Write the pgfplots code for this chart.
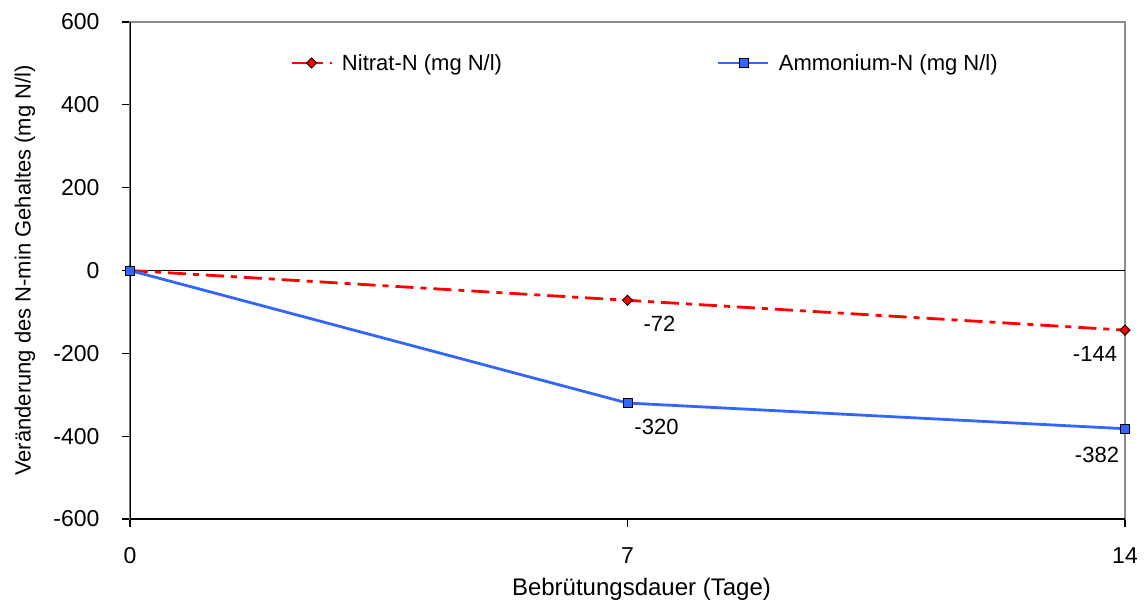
\documentclass[border=0pt]{standalone}
\usepackage{pgfplots}
\usepackage{pgfplotstable}
\pgfplotsset{compat=1.18}
\usepackage{fontspec}
\setmainfont{Liberation Sans}

\definecolor{nred}{RGB}{255,0,0}
\definecolor{ablue}{RGB}{51,102,255}
\definecolor{frame}{RGB}{140,140,140}

% Veraenderung des N-min Gehaltes waehrend der Bebruetung
\pgfplotstableread{
t  nitrat  ammonium
0  0       0
7  -72     -320
14 -144    -382
}\ndata

\pgfplotsset{
  vlabel/.style={draw=none, forget plot, mark=none, nodes near coords, point meta=y,
    nodes near coords style={anchor=center, font=\fontsize{22}{26}\selectfont}},
}

\begin{document}
\begin{tikzpicture}[font=\fontsize{22}{26}\selectfont]
\path[use as bounding box] (-130pt,-81pt) rectangle (1015pt,519pt);
\begin{axis}[
  at={(0,0)}, anchor=south west,
  scale only axis, width=995pt, height=497pt,
  xmin=0, xmax=14, ymin=-600, ymax=600,
  xtick={0,7,14}, ytick={-600,-400,...,600},
  xtick pos=bottom, ytick pos=left,
  tick align=outside, major tick length=8pt,
  tick style={black, line width=1.1pt},
  axis line style={draw=frame, line width=1.4pt},
  /pgf/number format/assume math mode=true,
  tick label style={font=\fontsize{23}{27}\selectfont},
  yticklabel style={xshift=-19pt},
  xticklabel style={yshift=-17pt},
  xlabel={Bebrütungsdauer (Tage)},
  ylabel={Veränderung des N-min Gehaltes (mg N/l)},
  every axis x label/.style={at={(axis description cs:0.514,0)}, anchor=center,
    yshift=-70pt, font=\fontsize{24}{28}\selectfont},
  every axis y label/.style={at={(axis description cs:-0.1055,0.5)}, rotate=90, anchor=center,
    font=\fontsize{22}{26}\selectfont},
  legend columns=2,
  legend cell align=left,
  legend style={draw=none, fill=none, inner sep=0pt,
    at={(rel axis cs:0.1608,0.9175)}, anchor=west,
    font=\fontsize{22}{26}\selectfont,
    /tikz/every odd column/.append style={column sep=7pt},
    /tikz/every even column/.append style={column sep=213pt}},
  legend image code/.code={
    \draw[mark repeat=2, mark phase=2] plot coordinates {(0pt,0pt) (20pt,0pt) (40pt,0pt)};},
]
% Achsen links und unten sowie Nulllinie
\draw[black, line width=1.2pt] (rel axis cs:0,1) -- (rel axis cs:0,0) -- (rel axis cs:1,0);
\draw[black, line width=1.2pt] (axis cs:0,0) -- (axis cs:14,0);

\addplot[nred, line width=2.8pt, dash pattern=on 18pt off 7pt on 6pt off 7pt,
  mark=square*, mark size=3.6pt,
  mark options={solid, rotate=45, fill=nred, draw=black, line width=0.8pt}]
  table[x=t, y=nitrat] {\ndata};
\addlegendentry{Nitrat-N (mg N/l)}

\addplot[ablue, line width=2.8pt,
  mark=square*, mark size=4.5pt,
  mark options={solid, fill=ablue, draw=black, line width=0.8pt},
  legend image code/.code={
    \draw[mark repeat=2, mark phase=2] plot coordinates {(0pt,0pt) (25pt,0pt) (50pt,0pt)};}]
  table[x=t, y=ammonium] {\ndata};
\addlegendentry{Ammonium-N (mg N/l)}

% Wertebeschriftungen
\addplot[vlabel, restrict x to domain=6:8, nodes near coords style={xshift=32pt, yshift=-23pt}]
  table[x=t, y=nitrat] {\ndata};
\addplot[vlabel, restrict x to domain=6:8, nodes near coords style={xshift=29pt, yshift=-24pt}]
  table[x=t, y=ammonium] {\ndata};
\addplot[vlabel, restrict x to domain=13:15, nodes near coords style={xshift=-30pt, yshift=-24pt}]
  table[x=t, y=nitrat] {\ndata};
\addplot[vlabel, restrict x to domain=13:15, nodes near coords style={xshift=-28pt, yshift=-26pt}]
  table[x=t, y=ammonium] {\ndata};
\end{axis}
\end{tikzpicture}
\end{document}
